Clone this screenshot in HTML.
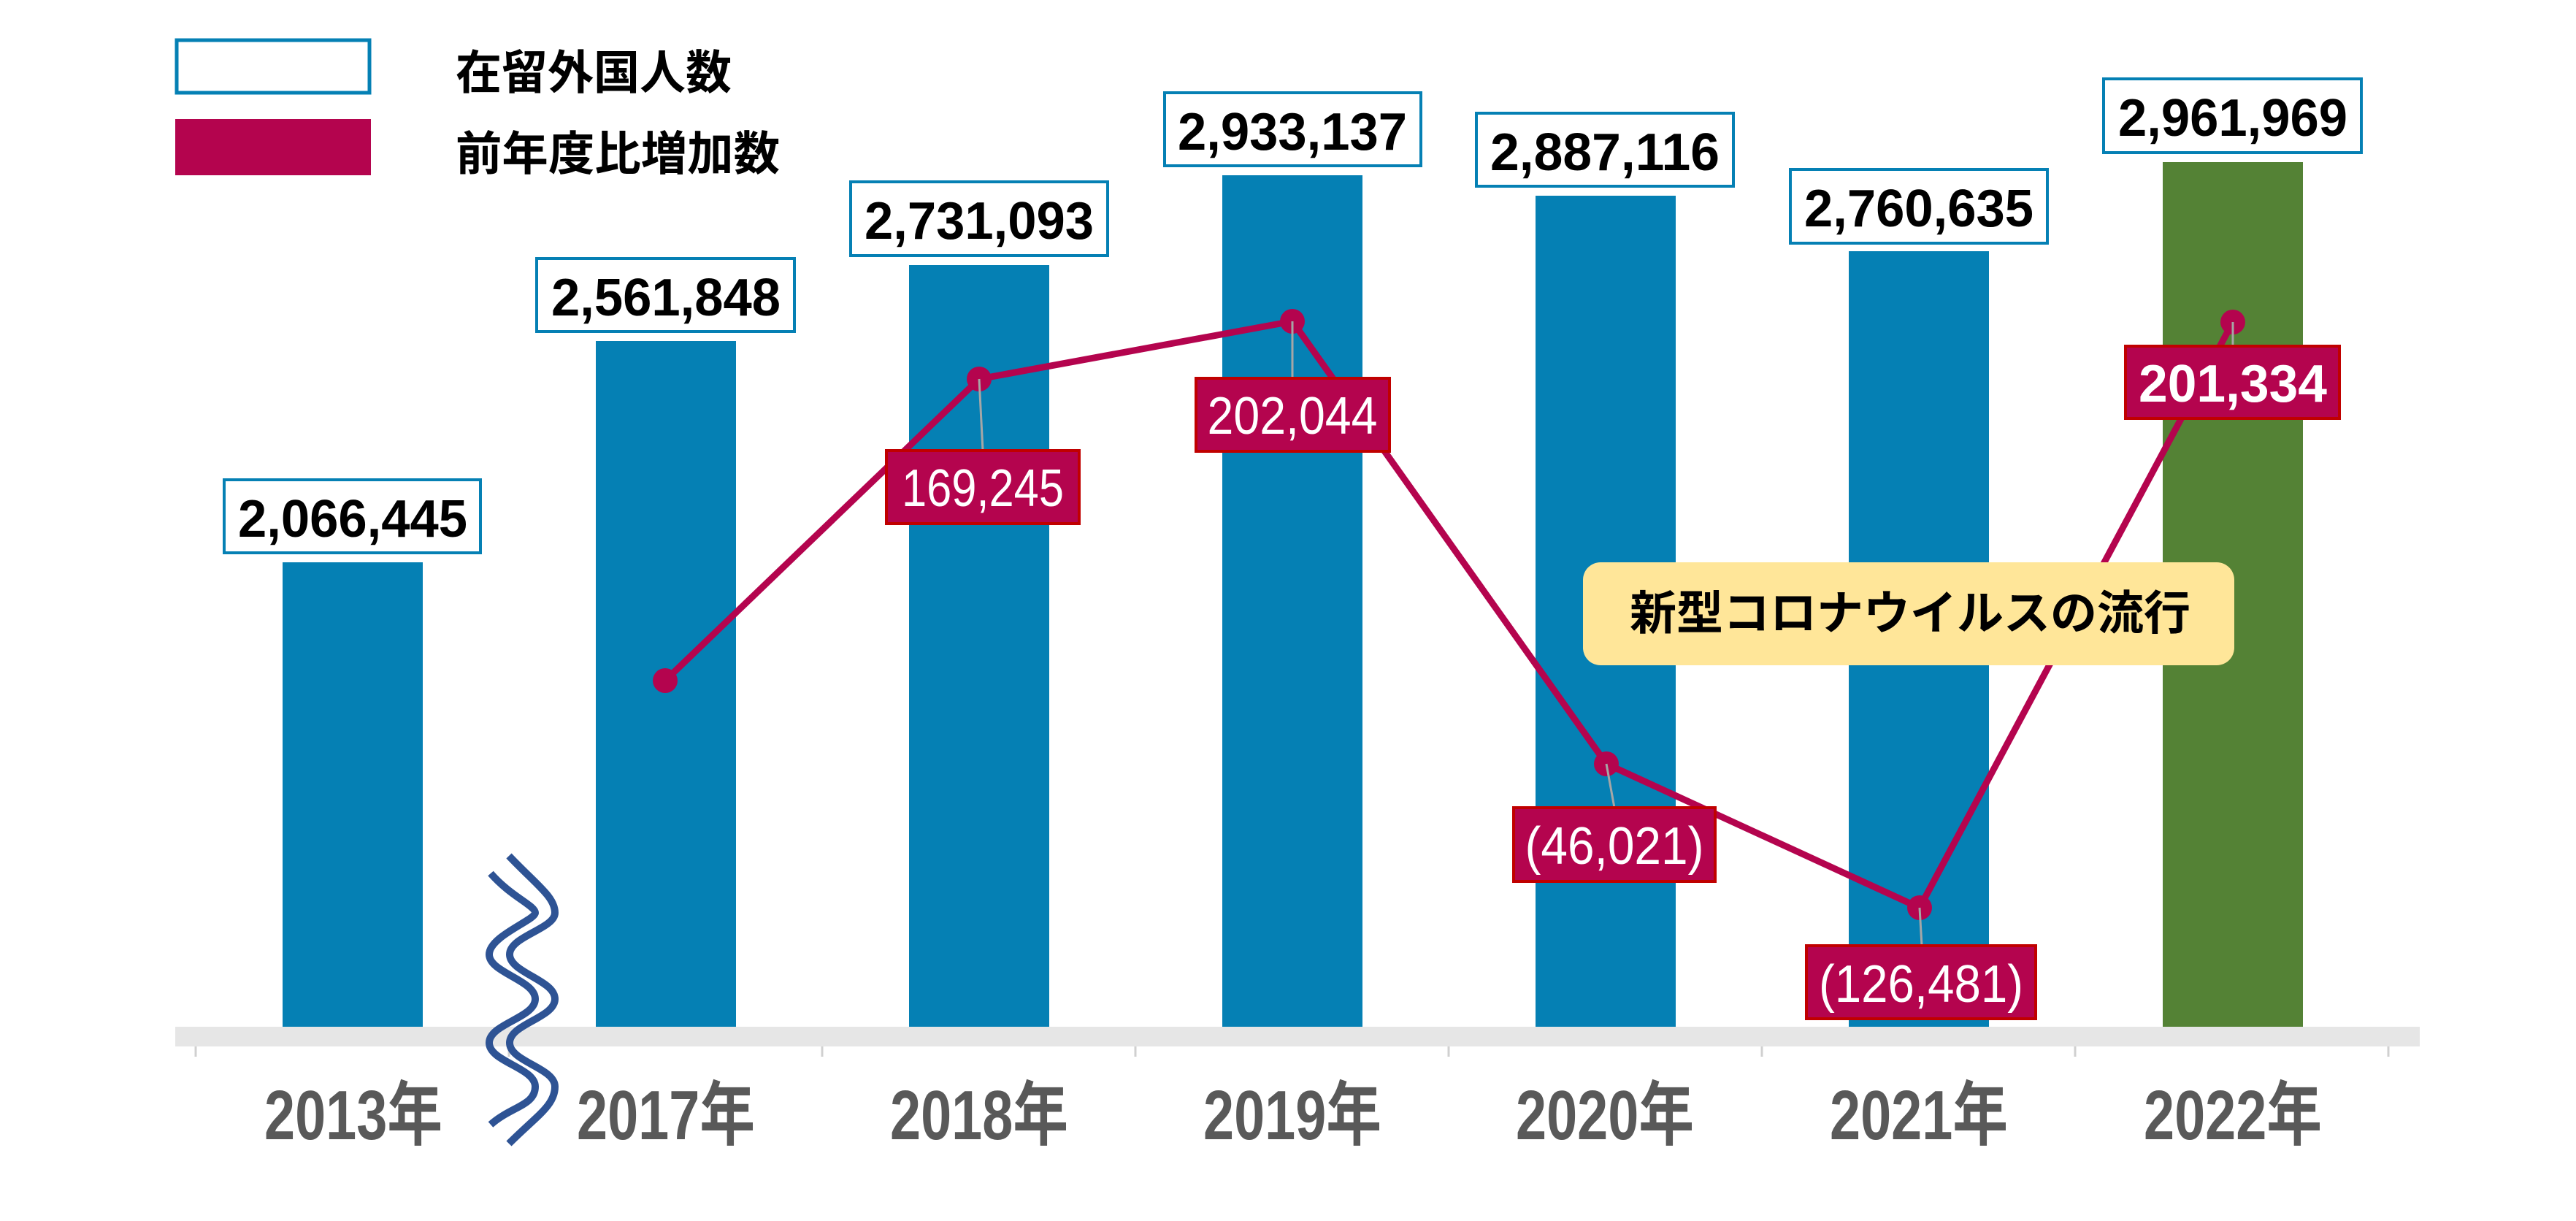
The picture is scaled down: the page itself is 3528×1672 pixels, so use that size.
<!DOCTYPE html>
<html><head><meta charset="utf-8"><style>html,body{margin:0;padding:0;background:#fff}svg{display:block}</style></head>
<body>
<svg width="3528" height="1672" viewBox="0 0 3528 1672" xmlns="http://www.w3.org/2000/svg">
<rect width="3528" height="1672" fill="#fff"/>
<!-- legend -->
<rect x="242" y="55" width="264" height="72" fill="#fff" stroke="#0580b4" stroke-width="5"/>
<rect x="240" y="163" width="268" height="77" fill="#b4044e"/>
<g font-family="'Liberation Sans','Noto Sans CJK JP',sans-serif" font-weight="bold" fill="#000" font-size="64">
<text x="624" y="122" textLength="378" lengthAdjust="spacingAndGlyphs">在留外国人数</text>
<text x="624" y="233" textLength="444" lengthAdjust="spacingAndGlyphs">前年度比増加数</text>
</g>
<!-- axis band -->
<rect x="240" y="1406" width="3074" height="27" fill="#e6e6e6"/>
<g stroke="#d0d0d0" stroke-width="3">
<line x1="268" y1="1433" x2="268" y2="1447"/><line x1="697" y1="1433" x2="697" y2="1447"/>
<line x1="1126" y1="1433" x2="1126" y2="1447"/><line x1="1555" y1="1433" x2="1555" y2="1447"/>
<line x1="1984" y1="1433" x2="1984" y2="1447"/><line x1="2413" y1="1433" x2="2413" y2="1447"/>
<line x1="2842" y1="1433" x2="2842" y2="1447"/><line x1="3271" y1="1433" x2="3271" y2="1447"/>
</g>
<!-- bars -->
<g fill="#0580b4">
<rect x="387" y="770" width="192" height="636"/>
<rect x="816" y="467" width="192" height="939"/>
<rect x="1245" y="363" width="192" height="1043"/>
<rect x="1674" y="240" width="192" height="1166"/>
<rect x="2103" y="268" width="192" height="1138"/>
<rect x="2532" y="344" width="192" height="1062"/>
</g>
<rect x="2962" y="222" width="192" height="1184" fill="#548235"/>
<!-- bar labels -->
<g fill="#fff" stroke="#0580b4" stroke-width="4">
<rect x="307" y="657" width="351" height="100"/>
<rect x="735" y="354" width="353" height="100"/>
<rect x="1165" y="249" width="352" height="101"/>
<rect x="1595" y="127" width="351" height="100"/>
<rect x="2022" y="155" width="352" height="100"/>
<rect x="2452" y="232" width="352" height="101"/>
<rect x="2881" y="108" width="353" height="101"/>
</g>
<g font-family="'Liberation Sans',sans-serif" font-weight="bold" font-size="72" fill="#000" text-anchor="middle">
<text x="483" y="735" textLength="314" lengthAdjust="spacingAndGlyphs">2,066,445</text>
<text x="912" y="432" textLength="314" lengthAdjust="spacingAndGlyphs">2,561,848</text>
<text x="1341" y="327" textLength="314" lengthAdjust="spacingAndGlyphs">2,731,093</text>
<text x="1770" y="205" textLength="314" lengthAdjust="spacingAndGlyphs">2,933,137</text>
<text x="2198" y="233" textLength="314" lengthAdjust="spacingAndGlyphs">2,887,116</text>
<text x="2628" y="310" textLength="314" lengthAdjust="spacingAndGlyphs">2,760,635</text>
<text x="3058" y="186" textLength="314" lengthAdjust="spacingAndGlyphs">2,961,969</text>
</g>
<!-- line -->
<polyline points="911,932 1341,519 1770,440 2200,1046 2629,1243 3058,441" fill="none" stroke="#b4044e" stroke-width="9" stroke-linejoin="round"/>
<g fill="#b4044e">
<circle cx="911" cy="932" r="17"/><circle cx="1341" cy="519" r="17"/><circle cx="1770" cy="440" r="17"/>
<circle cx="2200" cy="1046" r="17"/><circle cx="2629" cy="1243" r="17"/><circle cx="3058" cy="441" r="17"/>
</g>
<g stroke="#a6a6a6" stroke-width="3">
<line x1="1341" y1="519" x2="1346" y2="617"/><line x1="1770" y1="440" x2="1770" y2="518"/>
<line x1="2200" y1="1046" x2="2211" y2="1106"/><line x1="2629" y1="1243" x2="2632" y2="1295"/>
<line x1="3058" y1="441" x2="3058" y2="474"/>
</g>
<!-- covid box -->
<rect x="2168" y="770" width="892" height="141" rx="24" fill="#ffe699"/>
<text x="2232" y="862" font-family="'Liberation Sans','Noto Sans CJK JP',sans-serif" font-weight="bold" font-size="64" fill="#000" textLength="768" lengthAdjust="spacingAndGlyphs">新型コロナウイルスの流行</text>
<!-- magenta labels -->
<g fill="#b4044e" stroke="#c00000" stroke-width="4">
<rect x="1214" y="617" width="264" height="100"/>
<rect x="1638" y="518" width="265" height="100"/>
<rect x="2073" y="1106" width="276" height="101"/>
<rect x="2474" y="1295" width="314" height="100"/>
<rect x="2911" y="474" width="293" height="99"/>
</g>
<g font-family="'Liberation Sans',sans-serif" font-size="72" fill="#fff" text-anchor="middle">
<text x="1346" y="693" textLength="222" lengthAdjust="spacingAndGlyphs">169,245</text>
<text x="1770" y="594" textLength="233" lengthAdjust="spacingAndGlyphs">202,044</text>
<text x="2211" y="1183" textLength="245" lengthAdjust="spacingAndGlyphs">(46,021)</text>
<text x="2631" y="1372" textLength="280" lengthAdjust="spacingAndGlyphs">(126,481)</text>
<text x="3058" y="550" font-weight="bold" textLength="258" lengthAdjust="spacingAndGlyphs">201,334</text>
</g>
<!-- x labels -->
<g font-family="'Liberation Sans','Noto Sans CJK JP',sans-serif" font-size="96" font-weight="bold" fill="#595959" text-anchor="middle">
<text x="484" y="1560" textLength="244" lengthAdjust="spacingAndGlyphs">2013年</text>
<text x="912" y="1560" textLength="244" lengthAdjust="spacingAndGlyphs">2017年</text>
<text x="1341" y="1560" textLength="244" lengthAdjust="spacingAndGlyphs">2018年</text>
<text x="1770" y="1560" textLength="244" lengthAdjust="spacingAndGlyphs">2019年</text>
<text x="2198" y="1560" textLength="244" lengthAdjust="spacingAndGlyphs">2020年</text>
<text x="2628" y="1560" textLength="244" lengthAdjust="spacingAndGlyphs">2021年</text>
<text x="3058" y="1560" textLength="244" lengthAdjust="spacingAndGlyphs">2022年</text>
</g>
<!-- break symbol -->
<g fill="none" stroke="#2e5394" stroke-width="10">
<path d="M697,1172 C735,1212 760,1228 760,1250 S698,1282 698,1307 S760,1342 760,1368 S698,1402 698,1428 S760,1462 760,1488 S735,1528 697,1566"/>
<path d="M672,1196 C700,1228 733,1240 733,1250 S670,1282 670,1307 S733,1342 733,1368 S670,1402 670,1428 S733,1462 733,1488 S700,1515 672,1540"/>
</g>
</svg>
</body></html>
